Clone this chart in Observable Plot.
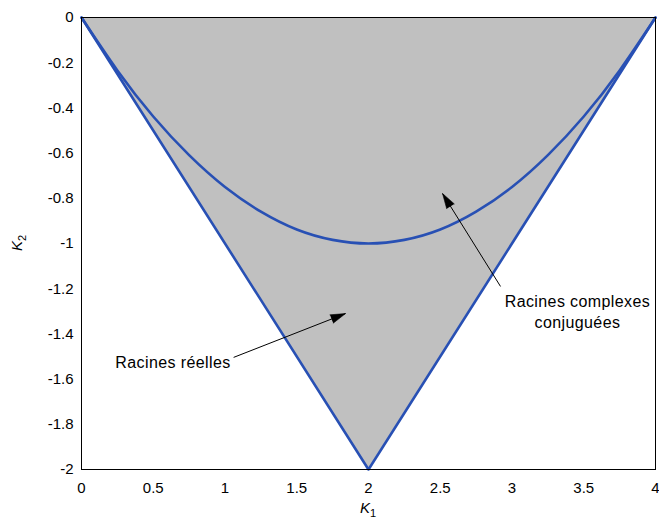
<!DOCTYPE html>
<html>
<head>
<meta charset="utf-8">
<script src="https://cdn.jsdelivr.net/npm/d3@7"></script>
<script src="https://cdn.jsdelivr.net/npm/@observablehq/plot@0.6"></script>
<style>
  html, body { margin: 0; padding: 0; background: #fff; }
  #chart { width: 659px; height: 520px; }
</style>
</head>
<body>
<div id="chart"></div>
<script>
// Triangle (stability region) vertices
const triK1 = [0, 2, 4];
const triK2 = [0, -2, 0];

const parK1 = [0, 0.25, 0.5, 0.75, 1, 1.25, 1.5, 1.75, 2, 2.25, 2.5, 2.75, 3, 3.25, 3.5, 3.75, 4];
const parK2 = [0, -0.234, -0.438, -0.609, -0.75, -0.859, -0.938, -0.984, -1, -0.984, -0.938, -0.859, -0.75, -0.609, -0.438, -0.234, 0];

// Axis ticks
const xTicks = [0, 0.5, 1, 1.5, 2, 2.5, 3, 3.5, 4];
const yTicks = [0, -0.2, -0.4, -0.6, -0.8, -1, -1.2, -1.4, -1.6, -1.8, -2];

// Annotations
const leftLabel = ["Racines réelles"];
const leftLabelK1 = [1.04];
const leftLabelK2 = [-1.527];
const rightLabels = ["Racines complexes", "conjuguées"];
const rightLabelK1 = [3.456, 3.456];
const rightLabelK2 = [-1.257, -1.35];
const arrowX1 = [1.06, 2.92];
const arrowY1 = [-1.504, -1.19];
const arrowX2 = [1.84, 2.516];
const arrowY2 = [-1.31, -0.779];

const W = 659, H = 520, ML = 81, MR = 4, MT = 17, MB = 51;

const tri = triK1.map((x, i) => ({x, y: triK2[i]}));
const par = parK1.map((x, i) => ({x, y: parK2[i]}));
const lLab = leftLabel.map((t, i) => ({t, x: leftLabelK1[i], y: leftLabelK2[i]}));
const rLab = rightLabels.map((t, i) => ({t, x: rightLabelK1[i], y: rightLabelK2[i]}));
const kx = (W - ML - MR) / 4, ky = (H - MT - MB) / 2;
const arrows = arrowX1.map((x1, i) => {
  const dx = (arrowX2[i] - x1) * kx, dy = (arrowY2[i] - arrowY1[i]) * ky;
  return {x1, y1: arrowY1[i], x2: arrowX2[i], y2: arrowY2[i], rot: Math.atan2(dx, dy) * 180 / Math.PI};
});

const blue = "#2850b4";
const font = "Liberation Sans, Arial, sans-serif";

const plot = Plot.plot({
  width: W,
  height: H,
  marginLeft: ML,
  marginRight: MR,
  marginTop: MT,
  marginBottom: MB,
  style: {fontFamily: font, fontSize: "15px", background: "#fff", color: "#000"},
  x: {domain: [0, 4], ticks: xTicks, tickSize: 0, tickPadding: 13, label: null, tickFormat: d => String(d)},
  y: {domain: [-2, 0], ticks: yTicks, tickSize: 0, tickPadding: 8, label: null, tickFormat: d => String(d)},
  marks: [
    Plot.areaY(tri, {x: "x", y1: 0, y2: "y", fill: "#c0c0c0"}),
    Plot.line(tri, {x: "x", y: "y", stroke: blue, strokeWidth: 2.6}),
    Plot.line(par, {x: "x", y: "y", stroke: blue, strokeWidth: 2.6, curve: "natural"}),
    Plot.frame({stroke: "#000", strokeWidth: 1}),
    Plot.link(arrows, {x1: "x1", y1: "y1", x2: "x2", y2: "y2", stroke: "#000", strokeWidth: 1}),
    Plot.vector(arrows, {x: "x2", y: "y2", rotate: "rot", length: 15, shape: "spike", r: 4.5, anchor: "end", fill: "#000", stroke: "#000", strokeWidth: 0.5}),
    Plot.text(lLab, {x: "x", y: "y", text: "t", textAnchor: "end", fill: "#000", fontSize: 16}),
    Plot.text(rLab, {x: "x", y: "y", text: "t", textAnchor: "middle", fill: "#000", fontSize: 16})
  ]
});

document.getElementById("chart").appendChild(plot);

// slightly wider letter spacing for annotations, like the reference
d3.select(plot).selectAll("g[aria-label='text'] text").attr("letter-spacing", "0.4px");

// Axis titles with subscripts
const svg = d3.select(plot);
const yl = svg.append("text")
  .attr("transform", "translate(22,243) rotate(-90)")
  .attr("text-anchor", "middle")
  .attr("font-family", font)
  .attr("font-size", 15)
  .attr("fill", "#000");
yl.append("tspan").attr("font-style", "italic").text("K");
yl.append("tspan").attr("font-size", 11).attr("dy", 4).text("2");

const xl = svg.append("text")
  .attr("transform", "translate(368,513)")
  .attr("text-anchor", "middle")
  .attr("font-family", font)
  .attr("font-size", 15)
  .attr("fill", "#000");
xl.append("tspan").attr("font-style", "italic").text("K");
xl.append("tspan").attr("font-size", 11).attr("dy", 4).text("1");
</script>
</body>
</html>
